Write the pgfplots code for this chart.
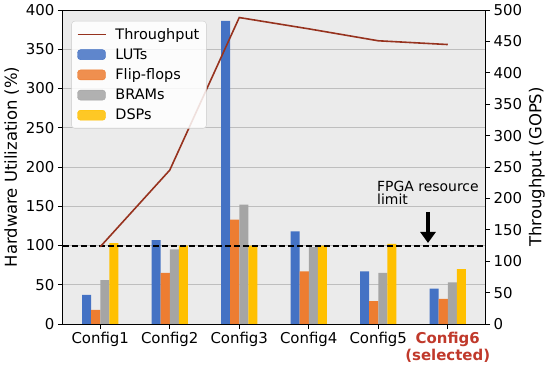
\documentclass[border=0pt]{standalone}
\usepackage{fontspec}
\setmainfont{DejaVu Sans}
\usepackage{pgfplots}
\pgfplotsset{compat=1.18}
\usetikzlibrary{arrows.meta}
\definecolor{cLUT}{RGB}{68,114,196}
\definecolor{cFF}{RGB}{237,125,49}
\definecolor{cBRAM}{RGB}{165,165,165}
\definecolor{cDSP}{RGB}{255,192,0}
\definecolor{cTP}{RGB}{150,50,30}
\definecolor{cSel}{RGB}{192,57,43}
\definecolor{bgc}{RGB}{235,235,235}
\definecolor{gridc}{RGB}{190,190,190}
\begin{document}
\begin{tikzpicture}
\useasboundingbox (-63bp,-44bp) rectangle (487bp,324bp);
\pgfplotsset{
  common/.style={
    scale only axis, width=422bp, height=314bp,
    xmin=-0.536, xmax=5.536,
    tick align=outside, major tick length=5bp,
    tick style={black, line width=0.9bp},
    ticklabel style={font=\fontsize{15}{17}\selectfont},
    label style={font=\fontsize{16.5}{19}\selectfont},
    /pgf/number format/assume math mode=true,
    axis line style={line width=1bp},
  }
}
\begin{axis}[common,
  ymin=0, ymax=400,
  ybar=0pt, bar width=0.13,
  xtick={0,1,2,3,4,5},
  xticklabels={Config1,Config2,Config3,Config4,Config5,{\textcolor{cSel}{\bfseries Config6}\\\textcolor{cSel}{\bfseries (selected)}}},
  xticklabel style={align=center},
  xtick pos=bottom, ytick pos=left,
  ytick={0,50,...,400},
  ymajorgrids, grid style={gridc, line width=0.8bp},
  axis background/.style={fill=bgc},
  ylabel={Hardware Utilization (\%)},
]
\addplot[fill=cLUT, draw=none] coordinates {(0,37) (1,107) (2,386) (3,118) (4,67) (5,45)};
\addplot[fill=cFF, draw=none] coordinates {(0,18) (1,65) (2,133) (3,67) (4,29) (5,32)};
\addplot[fill=cBRAM, draw=none] coordinates {(0,56) (1,95) (2,152) (3,98) (4,65) (5,53)};
\addplot[fill=cDSP, draw=none] coordinates {(0,103) (1,100) (2,100) (3,100) (4,102) (5,70)};
\addplot[sharp plot, black, line width=2bp, dash pattern=on 6bp off 3bp, forget plot] coordinates {(-0.536,100) (5.536,100)};
\node[anchor=north west, align=left, inner sep=0pt, font=\fontsize{14}{13}\selectfont] at (axis cs:3.982,182) {FPGA resource\\limit};
\draw[black, line width=4.5bp, -{Triangle[length=11bp, width=15bp]}] (axis cs:4.716,142.7) -- (axis cs:4.716,103.2);
\end{axis}
\begin{axis}[common,
  ymin=0, ymax=500,
  axis x line=none, axis y line*=right,
  ytick={0,50,...,500},
  ylabel={Throughput (GOPS)},
  legend style={at={(0.02,0.965)}, anchor=north west, draw=gray!40, fill=white, fill opacity=0.85, text opacity=1, rounded corners=3bp, font=\fontsize{14.5}{17}\selectfont, row sep=4bp, inner xsep=5bp, inner ysep=5bp,
    /tikz/every even column/.append style={column sep=4bp},
    /tikz/every odd column/.append style={column sep=7bp}},
  legend cell align=left,
]
\addplot[cTP, line width=1.6bp, mark=none, legend image code/.code={\draw[cTP, line width=1.8bp] (0bp,0bp) -- (28bp,0bp);}] coordinates {(0,123) (1,245) (2,488) (3,470) (4,451) (5,445)};
\addlegendentry{Throughput}
\addlegendimage{legend image code/.code={\fill[cLUT] (0bp,-5bp) rectangle (28bp,5bp);}}
\addlegendentry{LUTs}
\addlegendimage{legend image code/.code={\fill[cFF] (0bp,-5bp) rectangle (28bp,5bp);}}
\addlegendentry{Flip-flops}
\addlegendimage{legend image code/.code={\fill[cBRAM] (0bp,-5bp) rectangle (28bp,5bp);}}
\addlegendentry{BRAMs}
\addlegendimage{legend image code/.code={\fill[cDSP] (0bp,-5bp) rectangle (28bp,5bp);}}
\addlegendentry{DSPs}
\end{axis}
\end{tikzpicture}
\end{document}
